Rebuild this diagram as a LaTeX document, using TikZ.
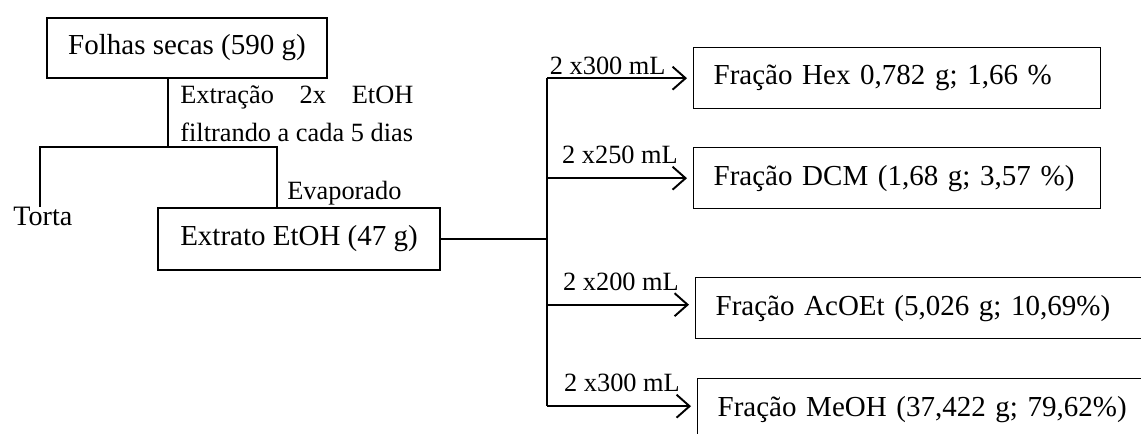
\documentclass[tikz,border=0pt]{standalone}
\usepackage{fontspec}
\setmainfont{Liberation Serif}
\usetikzlibrary{arrows.meta, positioning}
\frenchspacing

\begin{document}
\begin{tikzpicture}[x=0.02cm, y=-0.02cm,
  caixa/.style={rectangle, draw, line width=0.8pt, inner sep=0pt,
                font=\fontsize{16.5}{19.8}\selectfont},
  fracao/.style={caixa, anchor=north west, text width=#1, align=left,
                 inner xsep=0.4cm, minimum height=1.22cm},
  texto/.style={inner sep=0pt, font=\fontsize{15}{21.6}\selectfont},
  linha/.style={line width=1.1pt},
  seta/.style={linha, -{Straight Barb[length=2.6mm, width=4.6mm, line width=1.1pt]},
               shorten >=1.2mm},
  rotulo/.style={texto, above=1.5pt, midway}
]
\clip (0,0) rectangle (1141,433);

% extracao
\node[caixa, minimum width=5.6cm, minimum height=1.2cm] (folhas) at (187,48) {Folhas secas (590 g)};
\node[caixa, minimum width=5.64cm, minimum height=1.24cm] (extrato) at (299,239) {Extrato EtOH (47 g)};
\node[texto, font=\fontsize{16}{19}\selectfont, anchor=north west] (torta) at (13,207) {Torta};
\node[texto, anchor=north west, align=left] (extr) at (180,85)
  {\makebox[4.66cm][s]{Extra\c{c}\~ao 2x EtOH}\\filtrando a cada 5 dias};
\node[texto, anchor=west] (evap) at (287,193) {Evaporado};

\coordinate (split) at (168,147);
\coordinate (tleft) at (40,147);
\coordinate (tright) at (277,147);
\coordinate (bus) at (547,241);

\draw[linha] (folhas.south -| split) -- (split);
\draw[linha] (torta.north -| tleft) -- (tleft) -- (tright) -- (extrato.north -| tright);

% fracoes
\node[fracao=7.34cm] (hex) at (693,47) {Fra\c{c}\~ao Hex 0,782 g; 1,66 \%};
\node[fracao=7.34cm] (dcm) at (693,147) {Fra\c{c}\~ao DCM (1,68 g; 3,57 \%)};
\node[fracao=8.4cm] (acoet) at (695,277) {Fra\c{c}\~ao AcOEt (5,026 g; 10,69\%)};
\node[fracao=8.4cm, minimum height=1.24cm] (meoh) at (697,378) {Fra\c{c}\~ao MeOH (37,422 g; 79,62\%)};

\draw[linha] (extrato.east) -- (extrato.east -| bus);
\draw[linha] (hex.west -| bus) -- ([yshift=2]meoh.west -| bus);
\draw[seta] (hex.west -| bus) -- (hex.west) node[rotulo, xshift=-7]{2 x300 mL};
\draw[seta] (dcm.west -| bus) -- (dcm.west) node[rotulo, yshift=6]{2 x250 mL};
\draw[seta] ([yshift=2]acoet.west -| bus) -- ([yshift=2]acoet.west) node[rotulo, yshift=6]{2 x200 mL};
\draw[seta] ([yshift=2]meoh.west -| bus) -- ([yshift=2]meoh.west) node[rotulo, yshift=6]{2 x300 mL};

\end{tikzpicture}
\end{document}
